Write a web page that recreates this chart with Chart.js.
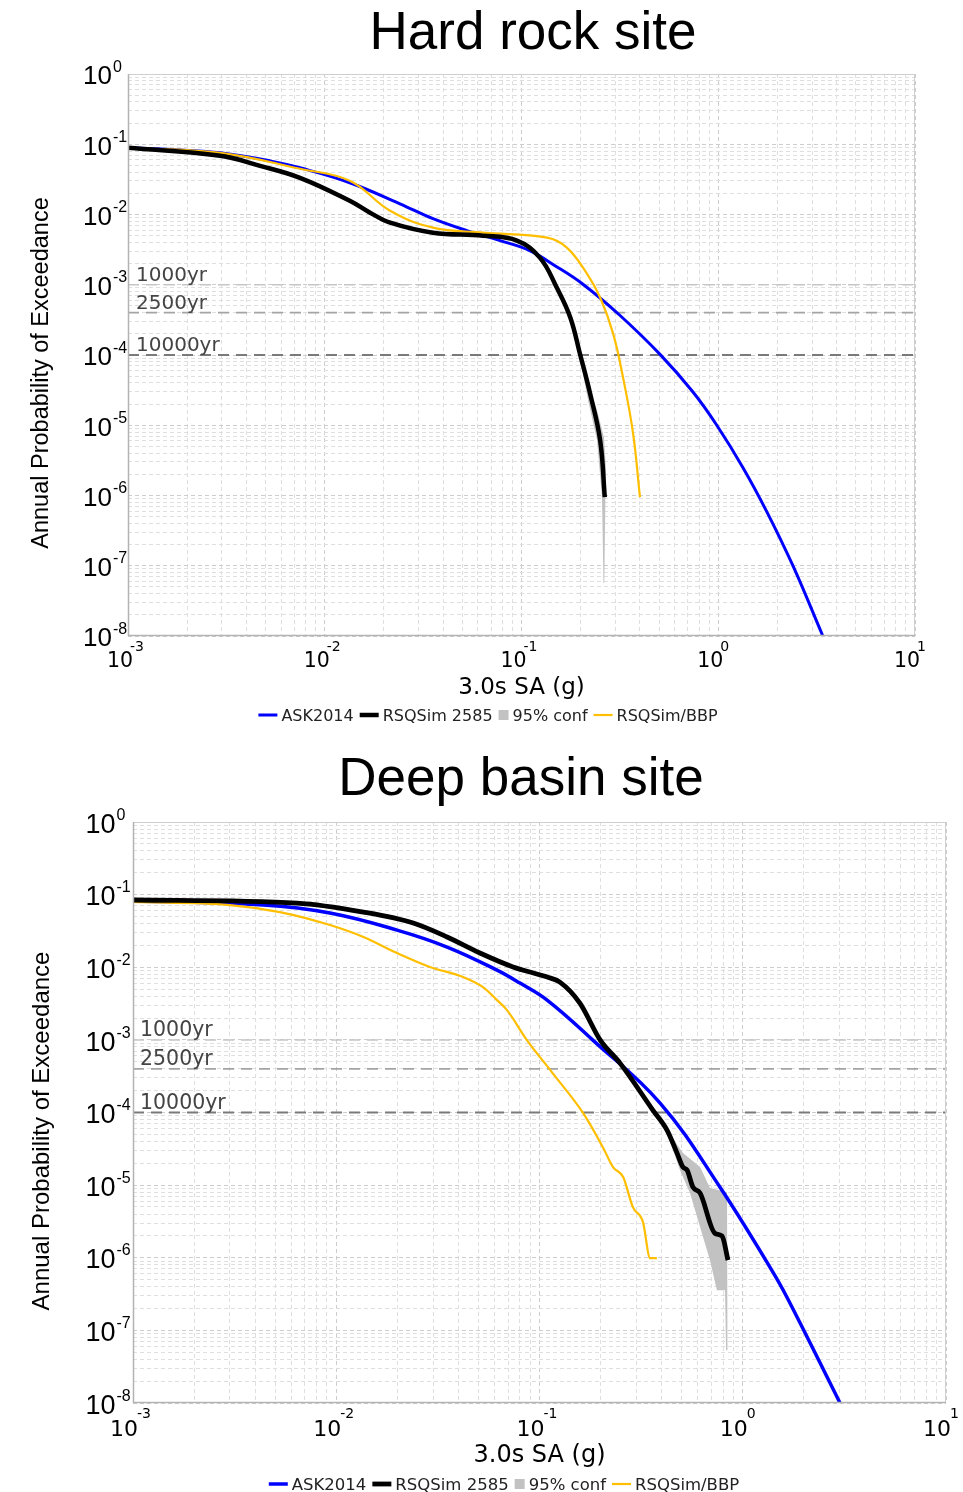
<!DOCTYPE html>
<html><head><meta charset="utf-8">
<script src="https://cdn.jsdelivr.net/npm/chart.js@4.4.1/dist/chart.umd.min.js"></script>
<style>
html,body{margin:0;padding:0;background:#fff;}
#wrap{width:963px;height:1492px;position:relative;overflow:hidden;}
.box{position:absolute;left:0;width:963px;height:746px;}
</style></head><body>
<div id="wrap">
<div class="box" style="top:0"><canvas id="c1" width="963" height="746"></canvas></div>
<div class="box" style="top:746px"><canvas id="c2" width="963" height="746"></canvas></div>
</div>
<script>
// ---------- data ----------
const xTickExps = [-3, -2, -1, 0, 1];
const yTickExps = [0, -1, -2, -3, -4, -5, -6, -7, -8];
const hazardLabels = ['1000yr', '2500yr', '10000yr'];
const hazardLevels = [1e-3, 4e-4, 1e-4];
const legendLabels = ['ASK2014', 'RSQSim 2585', '95% conf', 'RSQSim/BBP'];
const chartTitles = ['Hard rock site', 'Deep basin site'];
const xAxisTitle = '3.0s SA (g)';
const yAxisTitle = 'Annual Probability of Exceedance';

// Hard rock site
const hrAskX = [0.001, 0.00184, 0.00294, 0.00527, 0.00748, 0.0134, 0.0241, 0.0355, 0.0528, 0.0778, 0.110, 0.148, 0.206, 0.317, 0.506, 0.744, 0.985, 1.336, 1.769, 2.399, 3.40];
const hrAskY = [8.9e-2, 8.3e-2, 7.55e-2, 5.8e-2, 4.62e-2, 2.83e-2, 1.42e-2, 8.71e-3, 5.89e-3, 4.25e-3, 3.06e-3, 1.87e-3, 1.01e-3, 3.65e-4, 1.02e-4, 2.97e-5, 9.93e-6, 2.49e-6, 5.81e-7, 9.93e-8, 1.0e-8];
const hrSimX = [0.001, 0.00294, 0.00469, 0.00748, 0.0134, 0.0170, 0.0215, 0.0355, 0.0637, 0.0948, 0.124, 0.151, 0.177, 0.198, 0.223, 0.251, 0.265];
const hrSimY = [8.9e-2, 6.84e-2, 4.93e-2, 3.33e-2, 1.57e-2, 1.06e-2, 7.65e-3, 5.51e-3, 5.0e-3, 4.25e-3, 2.43e-3, 9.12e-4, 3.42e-4, 1.05e-4, 2.85e-5, 6.12e-6, 9.5e-7];
const hrBbpX = [0.001, 0.00294, 0.00748, 0.0134, 0.0215, 0.0355, 0.0637, 0.135, 0.170, 0.215, 0.251, 0.292, 0.328, 0.369, 0.400];
const hrBbpY = [8.9e-2, 7.55e-2, 4.48e-2, 3.02e-2, 1.13e-2, 6.49e-3, 5.51e-3, 4.68e-3, 3.37e-3, 1.44e-3, 6.58e-4, 2.03e-4, 4.81e-5, 7.7e-6, 9.5e-7];
const hrConfX = [0.210, 0.242, 0.2624, 0.2689, 0.267, 0.2635, 0.2610, 0.2565, 0.242, 0.218, 0.206];
const hrConfY = [5.13e-5, 1.63e-5, 6.76e-6, 2.3e-6, 9.5e-7, 5.7e-8, 5.7e-8, 9.5e-7, 6.12e-6, 2.26e-5, 5.13e-5];

// Deep basin site
const dbAskX = [0.001, 0.00437, 0.00931, 0.0199, 0.0351, 0.0618, 0.0802, 0.109, 0.183, 0.392, 0.773, 1.36, 1.65, 3.01];
const dbAskY = [8.17e-2, 7.19e-2, 5.58e-2, 3.25e-2, 1.90e-2, 9.14e-3, 6.05e-3, 3.53e-3, 9.93e-4, 1.35e-4, 9.37e-6, 7.43e-7, 2.86e-7, 1.0e-8];
const dbSimX = [0.001, 0.00641, 0.0136, 0.0239, 0.0351, 0.0509, 0.0741, 0.109, 0.126, 0.158, 0.199, 0.249, 0.361, 0.424, 0.475, 0.508, 0.532, 0.569, 0.617, 0.729, 0.791, 0.846];
const dbSimY = [8.43e-2, 7.66e-2, 5.75e-2, 4.06e-2, 2.61e-2, 1.57e-2, 1.01e-2, 7.33e-3, 6.25e-3, 3.21e-3, 9.93e-4, 4.79e-4, 1.08e-4, 5.73e-5, 2.76e-5, 1.77e-5, 1.61e-5, 9.37e-6, 7.76e-6, 2.18e-6, 1.99e-6, 9.27e-7];
const dbBbpX = [0.001, 0.0030, 0.00528, 0.00931, 0.0136, 0.0199, 0.0289, 0.0421, 0.0527, 0.0618, 0.0692, 0.0867, 0.116, 0.164, 0.205, 0.230, 0.258, 0.288, 0.323, 0.350, 0.378];
const dbBbpY = [7.91e-2, 7.19e-2, 5.75e-2, 3.81e-2, 2.61e-2, 1.57e-2, 1.01e-2, 7.33e-3, 5.33e-3, 3.53e-3, 2.57e-3, 9.93e-4, 3.49e-4, 9.82e-5, 3.33e-5, 1.77e-5, 1.29e-5, 4.98e-6, 3.09e-6, 9.86e-7, 9.86e-7];
const dbConfX = [0.424, 0.508, 0.617, 0.690, 0.837, 0.845, 0.837, 0.828, 0.818, 0.746, 0.690, 0.617, 0.550, 0.491, 0.424];
const dbConfY = [5.73e-5, 2.76e-5, 1.77e-5, 9.1e-6, 8.0e-6, 3.58e-7, 5.33e-8, 5.33e-8, 3.58e-7, 3.58e-7, 9.27e-7, 2.64e-6, 7.76e-6, 1.61e-5, 5.2e-5];

// ---------- helpers ----------
const pts = (xs, ys) => xs.map((x, i) => ({x: x, y: ys[i]}));
function logTicks(e0, e1) {
  const t = [];
  for (let e = e0; e < e1; e++) for (let m = 1; m <= 9; m++) t.push({value: m * Math.pow(10, e)});
  t.push({value: Math.pow(10, e1)});
  return t;
}
function isMajor(v) { const l = Math.log10(v); return Math.abs(l - Math.round(l)) < 1e-6; }

const COLORS = {ask: '#0000ff', sim: '#000000', conf: '#c2c2c2', bbp: '#ffbf00'};
const hazColors = ['#c6c6c6', '#a4a4a4', '#7a7a7a'];
const hazWidths = [1.5, 1.8, 2.2];

const deco = {
  id: 'deco',
  afterDraw(chart) {
    const o = chart.options.plugins.deco;
    const ctx = chart.ctx, a = chart.chartArea;
    const xs = chart.scales.x, ys = chart.scales.y;
    ctx.save();
    ctx.strokeStyle = '#cfcfcf'; ctx.lineWidth = 1;
    ctx.beginPath(); ctx.moveTo(a.left, a.top + 0.5); ctx.lineTo(a.right - 0.5, a.top + 0.5); ctx.lineTo(a.right - 0.5, a.bottom); ctx.stroke();
    ctx.strokeStyle = '#b3b3b3'; ctx.lineWidth = 1.5;
    ctx.beginPath(); ctx.moveTo(a.left + 0.5, a.top); ctx.lineTo(a.left + 0.5, a.bottom - 0.5); ctx.lineTo(a.right, a.bottom - 0.5); ctx.stroke();

    ctx.fillStyle = '#000';
    ctx.font = o.titleSize + 'px "Liberation Sans", Arial, sans-serif';
    ctx.textAlign = 'center'; ctx.textBaseline = 'alphabetic';
    ctx.fillText(o.title, o.titleX, o.titleBase);

    ctx.save();
    ctx.translate(o.yTitleX, o.yTitleY); ctx.rotate(-Math.PI / 2);
    ctx.font = o.yTitleSize + 'px "Liberation Sans", Arial, sans-serif';
    ctx.textAlign = 'center'; ctx.textBaseline = 'middle';
    ctx.fillText(yAxisTitle, 0, 0);
    ctx.restore();

    yTickExps.forEach(e => {
      const py = ys.getPixelForValue(Math.pow(10, e));
      ctx.font = o.yTickSize + 'px "Liberation Sans", Arial, sans-serif';
      ctx.textAlign = 'right'; ctx.textBaseline = 'alphabetic';
      ctx.fillText('10', o.yTickRight, py + 1 + 0.358 * o.yTickSize);
      ctx.font = o.yExpSize + 'px "Liberation Sans", Arial, sans-serif';
      ctx.textAlign = 'left';
      ctx.fillText(String(e), o.yTickRight + 1, py - 8 + 0.358 * o.yExpSize);
    });

    xTickExps.forEach(e => {
      const px = xs.getPixelForValue(Math.pow(10, e));
      ctx.font = o.xTickSize + 'px "DejaVu Sans", sans-serif';
      ctx.textAlign = 'right'; ctx.textBaseline = 'alphabetic';
      ctx.fillText('10', px + 5, a.bottom + o.xTickOff + 0.364 * o.xTickSize);
      ctx.font = o.xExpSize + 'px "DejaVu Sans", sans-serif';
      ctx.textAlign = 'left';
      ctx.fillText(String(e), px + o.xExpDx, a.bottom + 10 + 0.364 * o.xExpSize);
    });

    ctx.font = o.xTitleSize + 'px "DejaVu Sans", sans-serif';
    ctx.textAlign = 'center'; ctx.textBaseline = 'alphabetic';
    ctx.fillText(xAxisTitle, (a.left + a.right) / 2, a.bottom + o.xTitleOff);

    ctx.fillStyle = '#444';
    ctx.font = o.hazSize + 'px "DejaVu Sans", sans-serif';
    ctx.textAlign = 'left';
    hazardLevels.forEach((v, i) => {
      const py = ys.getPixelForValue(v);
      ctx.fillText(hazardLabels[i], a.left + o.hazDx, py - 4);
    });

    const sw = [
      {t: 'line', c: COLORS.ask, w: o.wAsk},
      {t: 'line', c: COLORS.sim, w: o.wSim},
      {t: 'box', c: COLORS.conf},
      {t: 'line', c: COLORS.bbp, w: o.wBbp}
    ];
    ctx.font = o.legSize + 'px "DejaVu Sans", sans-serif';
    const widths = legendLabels.map(s => ctx.measureText(s).width);
    const swW = i => sw[i].t === 'box' ? 10 : 19;
    let total = 0;
    legendLabels.forEach((s, i) => { total += swW(i) + 4 + widths[i] + (i < 3 ? 6 : 0); });
    let x = o.legCX - total / 2;
    const cy = o.legY;
    legendLabels.forEach((s, i) => {
      const it = sw[i];
      if (it.t === 'box') { ctx.fillStyle = it.c; ctx.fillRect(x, cy - 5, 10, 10); }
      else { ctx.strokeStyle = it.c; ctx.lineWidth = it.w; ctx.beginPath(); ctx.moveTo(x, cy); ctx.lineTo(x + 19, cy); ctx.stroke(); }
      x += swW(i) + 4;
      ctx.fillStyle = '#222'; ctx.textAlign = 'left'; ctx.textBaseline = 'alphabetic';
      ctx.fillText(s, x, cy + 0.36 * o.legSize);
      x += widths[i] + 6;
    });
    ctx.restore();
  }
};

function curve(label, data, color, width, mode) {
  const ds = {label: label, data: data, borderColor: color, borderWidth: width, fill: false};
  if (mode === 'monotone') ds.cubicInterpolationMode = 'monotone';
  else ds.tension = 0.4;
  return ds;
}

function makeChart(id, d, L) {
  const xMin = 1e-3, xMax = 10;
  const datasets = [
    curve(legendLabels[1], pts(d.simX, d.simY), COLORS.sim, L.wSim, L.simMode),
    curve(legendLabels[3], pts(d.bbpX, d.bbpY), COLORS.bbp, L.wBbp, L.bbpMode),
    curve(legendLabels[0], pts(d.askX, d.askY), COLORS.ask, L.wAsk, 'bezier'),
    {label: legendLabels[2], data: pts(d.confX, d.confY), borderColor: 'rgba(0,0,0,0)', borderWidth: 0, backgroundColor: COLORS.conf, fill: 'shape', tension: 0}
  ].concat(hazardLevels.map((v, i) => ({
    label: hazardLabels[i], data: [{x: xMin, y: v}, {x: xMax, y: v}],
    borderColor: hazColors[i], borderWidth: hazWidths[i], borderDash: [11, 7], tension: 0, fill: false
  })));

  const gridOpts = {
    drawTicks: false,
    color: c => (c.tick && isMajor(c.tick.value)) ? '#cdcdcd' : '#dfdfdf',
    lineWidth: 1
  };
  return new Chart(document.getElementById(id), {
    type: 'line',
    data: {datasets: datasets},
    options: {
      responsive: false, animation: false, events: [],
      layout: {padding: L.pad},
      elements: {point: {radius: 0}, line: {borderCapStyle: 'butt', borderJoinStyle: 'round'}},
      scales: {
        x: {type: 'logarithmic', min: xMin, max: xMax,
            afterBuildTicks: s => { s.ticks = logTicks(-3, 1); },
            afterFit: s => { s.height = 0; },
            ticks: {display: false}, grid: gridOpts, border: {display: false, dash: [4, 3]}},
        y: {type: 'logarithmic', min: 1e-8, max: 1,
            afterBuildTicks: s => { s.ticks = logTicks(-8, 0); },
            afterFit: s => { s.width = 0; },
            ticks: {display: false}, grid: gridOpts, border: {display: false, dash: [4, 3]}}
      },
      plugins: {legend: {display: false}, tooltip: {enabled: false}, deco: L}
    },
    plugins: [deco]
  });
}

makeChart('c1',
  {askX: hrAskX, askY: hrAskY, simX: hrSimX, simY: hrSimY, bbpX: hrBbpX, bbpY: hrBbpY, confX: hrConfX, confY: hrConfY},
  {pad: {left: 128, top: 74, right: 48, bottom: 110},
   title: chartTitles[0], titleX: 533, titleBase: 49, titleSize: 53,
   yTitleX: 42, yTitleY: 373, yTitleSize: 23.5,
   yTickRight: 112, yTickSize: 26, yExpSize: 16,
   xTickSize: 20.5, xTickOff: 24, xExpSize: 14, xExpDx: 2,
   xTitleSize: 23, xTitleOff: 58,
   hazSize: 20, hazDx: 8,
   legSize: 16, legCX: 488, legY: 715,
   wAsk: 3, wSim: 4.5, wBbp: 2.2, simMode: 'bezier', bbpMode: 'bezier'});

makeChart('c2',
  {askX: dbAskX, askY: dbAskY, simX: dbSimX, simY: dbSimY, bbpX: dbBbpX, bbpY: dbBbpY, confX: dbConfX, confY: dbConfY},
  {pad: {left: 133, top: 76, right: 17, bottom: 89},
   title: chartTitles[1], titleX: 521, titleBase: 49, titleSize: 53,
   yTitleX: 42, yTitleY: 385, yTitleSize: 24,
   yTickRight: 115.5, yTickSize: 27, yExpSize: 16,
   xTickSize: 22, xTickOff: 25, xExpSize: 14, xExpDx: 4,
   xTitleSize: 24, xTitleOff: 59,
   hazSize: 20.5, hazDx: 7,
   legSize: 16.5, legCX: 504, legY: 738,
   wAsk: 3.5, wSim: 4.8, wBbp: 2.2, simMode: 'monotone', bbpMode: 'monotone'});
</script>
</body></html>
